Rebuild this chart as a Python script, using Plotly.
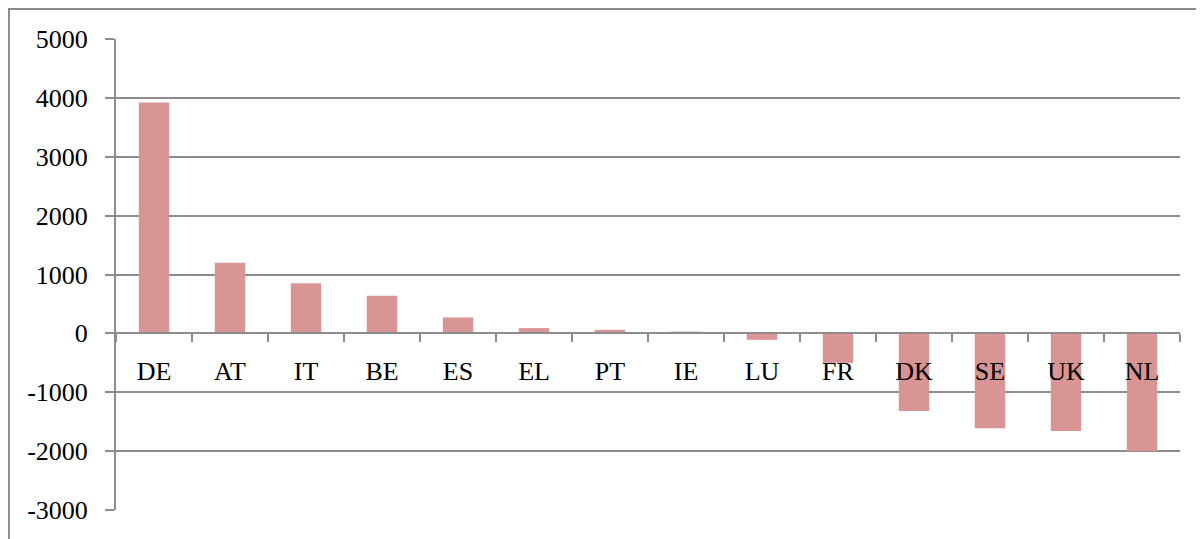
import plotly.graph_objects as go

countries = ["DE", "AT", "IT", "BE", "ES", "EL", "PT", "IE", "LU", "FR", "DK", "SE", "UK", "NL"]
values = [3920, 1200, 850, 640, 270, 90, 60, 30, -110, -500, -1320, -1610, -1660, -2000]
y_ticks = [5000, 4000, 3000, 2000, 1000, 0, -1000, -2000, -3000]
y_tick_text = [str(v) for v in y_ticks]

FONT = "Liberation Serif"
GRID = "#8c8c8c"

# page body has an 8px margin, so the figure is drawn at (8, 8)
W, H = 1196, 531
L, R, T, B = 108, 24, 31, 29
PW, PH = W - L - R, H - T - B

fig = go.Figure()
fig.add_trace(go.Bar(
    x=countries, y=values,
    marker=dict(color="#d99594", line=dict(width=0)),
    showlegend=False,
))

fig.update_layout(
    width=W, height=H,
    margin=dict(l=L, r=R, t=T, b=B, autoexpand=False),
    paper_bgcolor="white", plot_bgcolor="white",
    bargap=0.6,
    font=dict(family=FONT, size=26, color="black"),
    xaxis=dict(
        type="category",
        anchor="free", position=3000 / 8000,
        showline=True, linecolor=GRID, linewidth=2,
        ticks="outside", ticklen=8, tickwidth=2, tickcolor=GRID,
        tickson="boundaries",
        showgrid=False,
        ticklabelstandoff=14,
        tickfont=dict(family=FONT, size=26),
        automargin=False,
    ),
    yaxis=dict(
        range=[-3000, 5000],
        tickvals=y_ticks, ticktext=y_tick_text,
        showgrid=True, gridcolor=GRID, gridwidth=2,
        zeroline=False,
        showline=True, linecolor=GRID, linewidth=2,
        ticks="outside", ticklen=9, tickwidth=2, tickcolor=GRID,
        ticklabelstandoff=12,
        tickfont=dict(family=FONT, size=26),
        automargin=False,
    ),
    shapes=[
        dict(type="line", xref="paper", yref="paper", x0=-L / PW, x1=1 + R / PW,
             y0=1 + (T - 1) / PH, y1=1 + (T - 1) / PH,
             line=dict(color=GRID, width=2)),
        dict(type="line", xref="paper", yref="paper", x0=-(L - 1) / PW, x1=-(L - 1) / PW,
             y0=-B / PH, y1=1 + (T - 1) / PH,
             line=dict(color=GRID, width=2)),
    ],
)

fig.write_html("out.html")
